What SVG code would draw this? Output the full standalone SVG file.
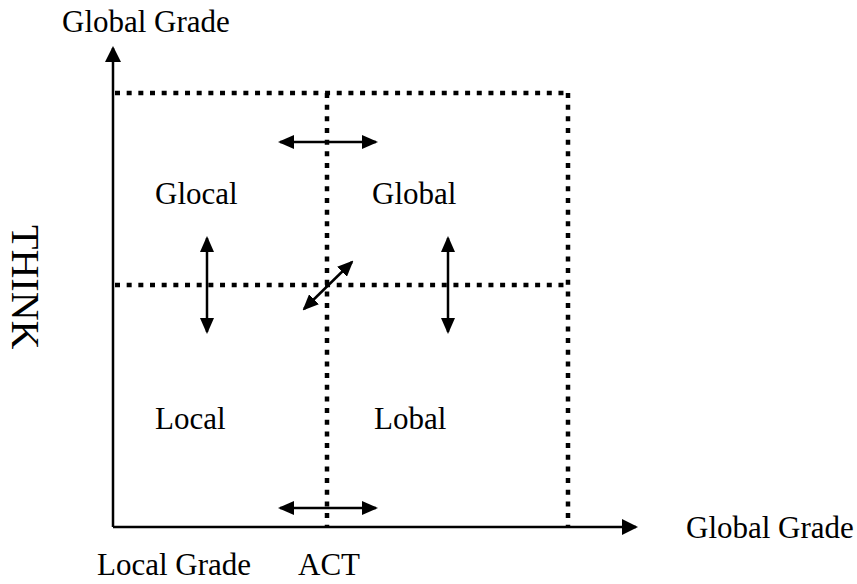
<svg xmlns="http://www.w3.org/2000/svg" width="857" height="584" viewBox="0 0 857 584">
<defs>
<marker id="ah" viewBox="0 0 16 16" refX="14" refY="8" markerWidth="16" markerHeight="16" markerUnits="userSpaceOnUse" orient="auto-start-reverse"><path d="M0,0 L16,8 L0,16 Z" fill="#000"/></marker>
<marker id="sh" viewBox="0 0 16 14" refX="14" refY="7" markerWidth="16" markerHeight="14" markerUnits="userSpaceOnUse" orient="auto-start-reverse"><path d="M0,0 L16,7 L0,14 Z" fill="#000"/></marker>
<style>
.t{font-family:"Liberation Serif","Times New Roman",serif;font-size:31px;fill:#000}
.dot{stroke:#000;stroke-width:4.5;stroke-dasharray:5 6.67;fill:none}
.ax{stroke:#000;stroke-width:2.5;fill:none}
.da{stroke:#000;stroke-width:2.5;fill:none}
</style>
</defs>
<g id="grid">
<line class="dot" x1="115" y1="93" x2="568" y2="93"/>
<line class="dot" x1="115" y1="285" x2="568" y2="285"/>
<line class="dot" x1="327" y1="93" x2="327" y2="527"/>
<line class="dot" x1="568" y1="93" x2="568" y2="527"/>
</g>
<g id="connectors">
<line class="ax" x1="113" y1="527" x2="113" y2="48" marker-end="url(#ah)"/>
<line class="ax" x1="113" y1="527" x2="636" y2="527" marker-end="url(#ah)"/>
<line class="da" x1="280" y1="142" x2="376" y2="142" marker-start="url(#sh)" marker-end="url(#sh)"/>
<line class="da" x1="280" y1="508" x2="376" y2="508" marker-start="url(#sh)" marker-end="url(#sh)"/>
<line class="da" x1="207" y1="238" x2="207" y2="332" marker-start="url(#sh)" marker-end="url(#sh)"/>
<line class="da" x1="448" y1="238" x2="448" y2="332" marker-start="url(#sh)" marker-end="url(#sh)"/>
<line class="da" x1="304" y1="309" x2="352" y2="262" marker-start="url(#sh)" marker-end="url(#sh)"/>
</g>
<g id="labels">
<text class="t" x="62" y="32">Global Grade</text>
<text class="t" x="155" y="204">Glocal</text>
<text class="t" x="372" y="204">Global</text>
<text class="t" x="155" y="429">Local</text>
<text class="t" x="374" y="429">Lobal</text>
<text class="t" x="686" y="538">Global Grade</text>
<text class="t" x="97" y="575">Local Grade</text>
<text class="t" x="298" y="575">ACT</text>
<text class="t" x="12" y="225" style="font-size:40px" transform="rotate(90 12 225)">THINK</text>
</g>
</svg>
